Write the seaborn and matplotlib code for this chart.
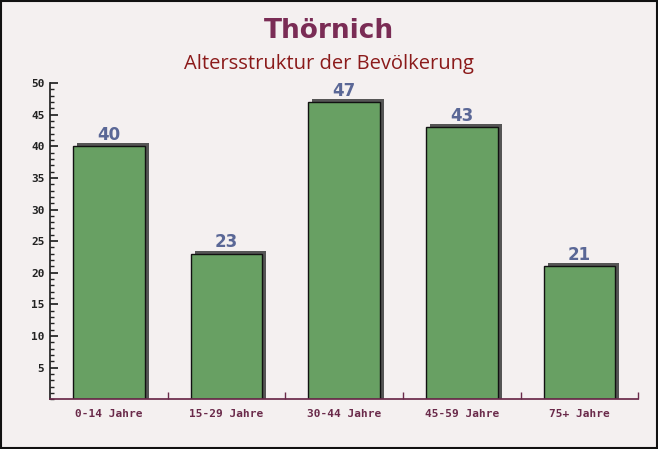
import matplotlib
matplotlib.use("Agg")
import matplotlib.pyplot as plt
import seaborn as sns
import pandas as pd
from matplotlib.patches import Rectangle
from matplotlib.ticker import MultipleLocator, FixedLocator

categories = ["0-14 Jahre", "15-29 Jahre", "30-44 Jahre", "45-59 Jahre", "75+ Jahre"]
values = [40, 23, 47, 43, 21]

sns.set_theme(style="white")
plt.rcParams['font.family'] = ['DejaVu Sans']

df = pd.DataFrame({"cat": categories, "val": values})
bg = "#f4f0f0"
fig = plt.figure(figsize=(6.58, 4.49), dpi=100, facecolor=bg)
ax = fig.add_axes([0.076, 0.111, 0.894, 0.704])
ax.set_facecolor("none")

bw = 0.61
# shadows
for i, v in enumerate(values):
    ax.add_patch(Rectangle((i - bw / 2 + 0.035, 0), bw, v + 0.5, facecolor="#555555",
                           edgecolor="none", zorder=1))
sns.barplot(data=df, x="cat", y="val", color="#68a063", saturation=1, width=bw,
            edgecolor="#111111", linewidth=1.0, ax=ax, zorder=2)

for i, v in enumerate(values):
    ax.text(i, v + 0.4, str(v), ha="center", va="bottom", fontsize=12, fontweight="bold",
            color="#5a6796", zorder=3)

ax.set_xlim(-0.5, 4.5)
ax.set_ylim(0, 50)
ax.set_xlabel("")
ax.set_ylabel("")
ax.yaxis.set_minor_locator(MultipleLocator(1))
ax.set_yticks([5, 10, 15, 20, 25, 30, 35, 40, 45, 50])
ax.xaxis.set_minor_locator(FixedLocator([0.5, 1.5, 2.5, 3.5, 4.5]))
for s in ["top", "right"]:
    ax.spines[s].set_visible(False)
ax.spines["left"].set_color("#222222")
ax.spines["bottom"].set_color("#6a2a4a")
ax.tick_params(axis="y", which="major", direction="in", length=6, color="#222222",
               labelsize=8, labelcolor="#222222", left=True, pad=4)
ax.tick_params(axis="y", which="minor", direction="in", length=3, color="#222222", left=True)
ax.tick_params(axis="x", which="major", length=0, labelsize=8, labelcolor="#6a2a4a", pad=7)
ax.tick_params(axis="x", which="minor", direction="in", length=5, color="#6a2a4a", bottom=True)
for lab in ax.get_yticklabels():
    lab.set_fontfamily("DejaVu Sans Mono")
    lab.set_fontweight("bold")
for lab in ax.get_xticklabels():
    lab.set_fontfamily("DejaVu Sans Mono")
    lab.set_fontweight("bold")

fig.text(0.5, 0.932, "Thörnich", ha="center", va="center", fontsize=19, fontweight="bold",
         color="#7a2c55")
fig.text(0.5, 0.857, "Altersstruktur der Bevölkerung", ha="center", va="center", fontsize=14.5,
         color="#8b1a1a", family=["Open Sans", "DejaVu Sans"])

fig.add_artist(Rectangle((0.001, 0.002), 0.997, 0.995, transform=fig.transFigure,
                         facecolor="none", edgecolor="#111111", linewidth=1.5))
fig.savefig("out.png", dpi=100, facecolor=bg)
